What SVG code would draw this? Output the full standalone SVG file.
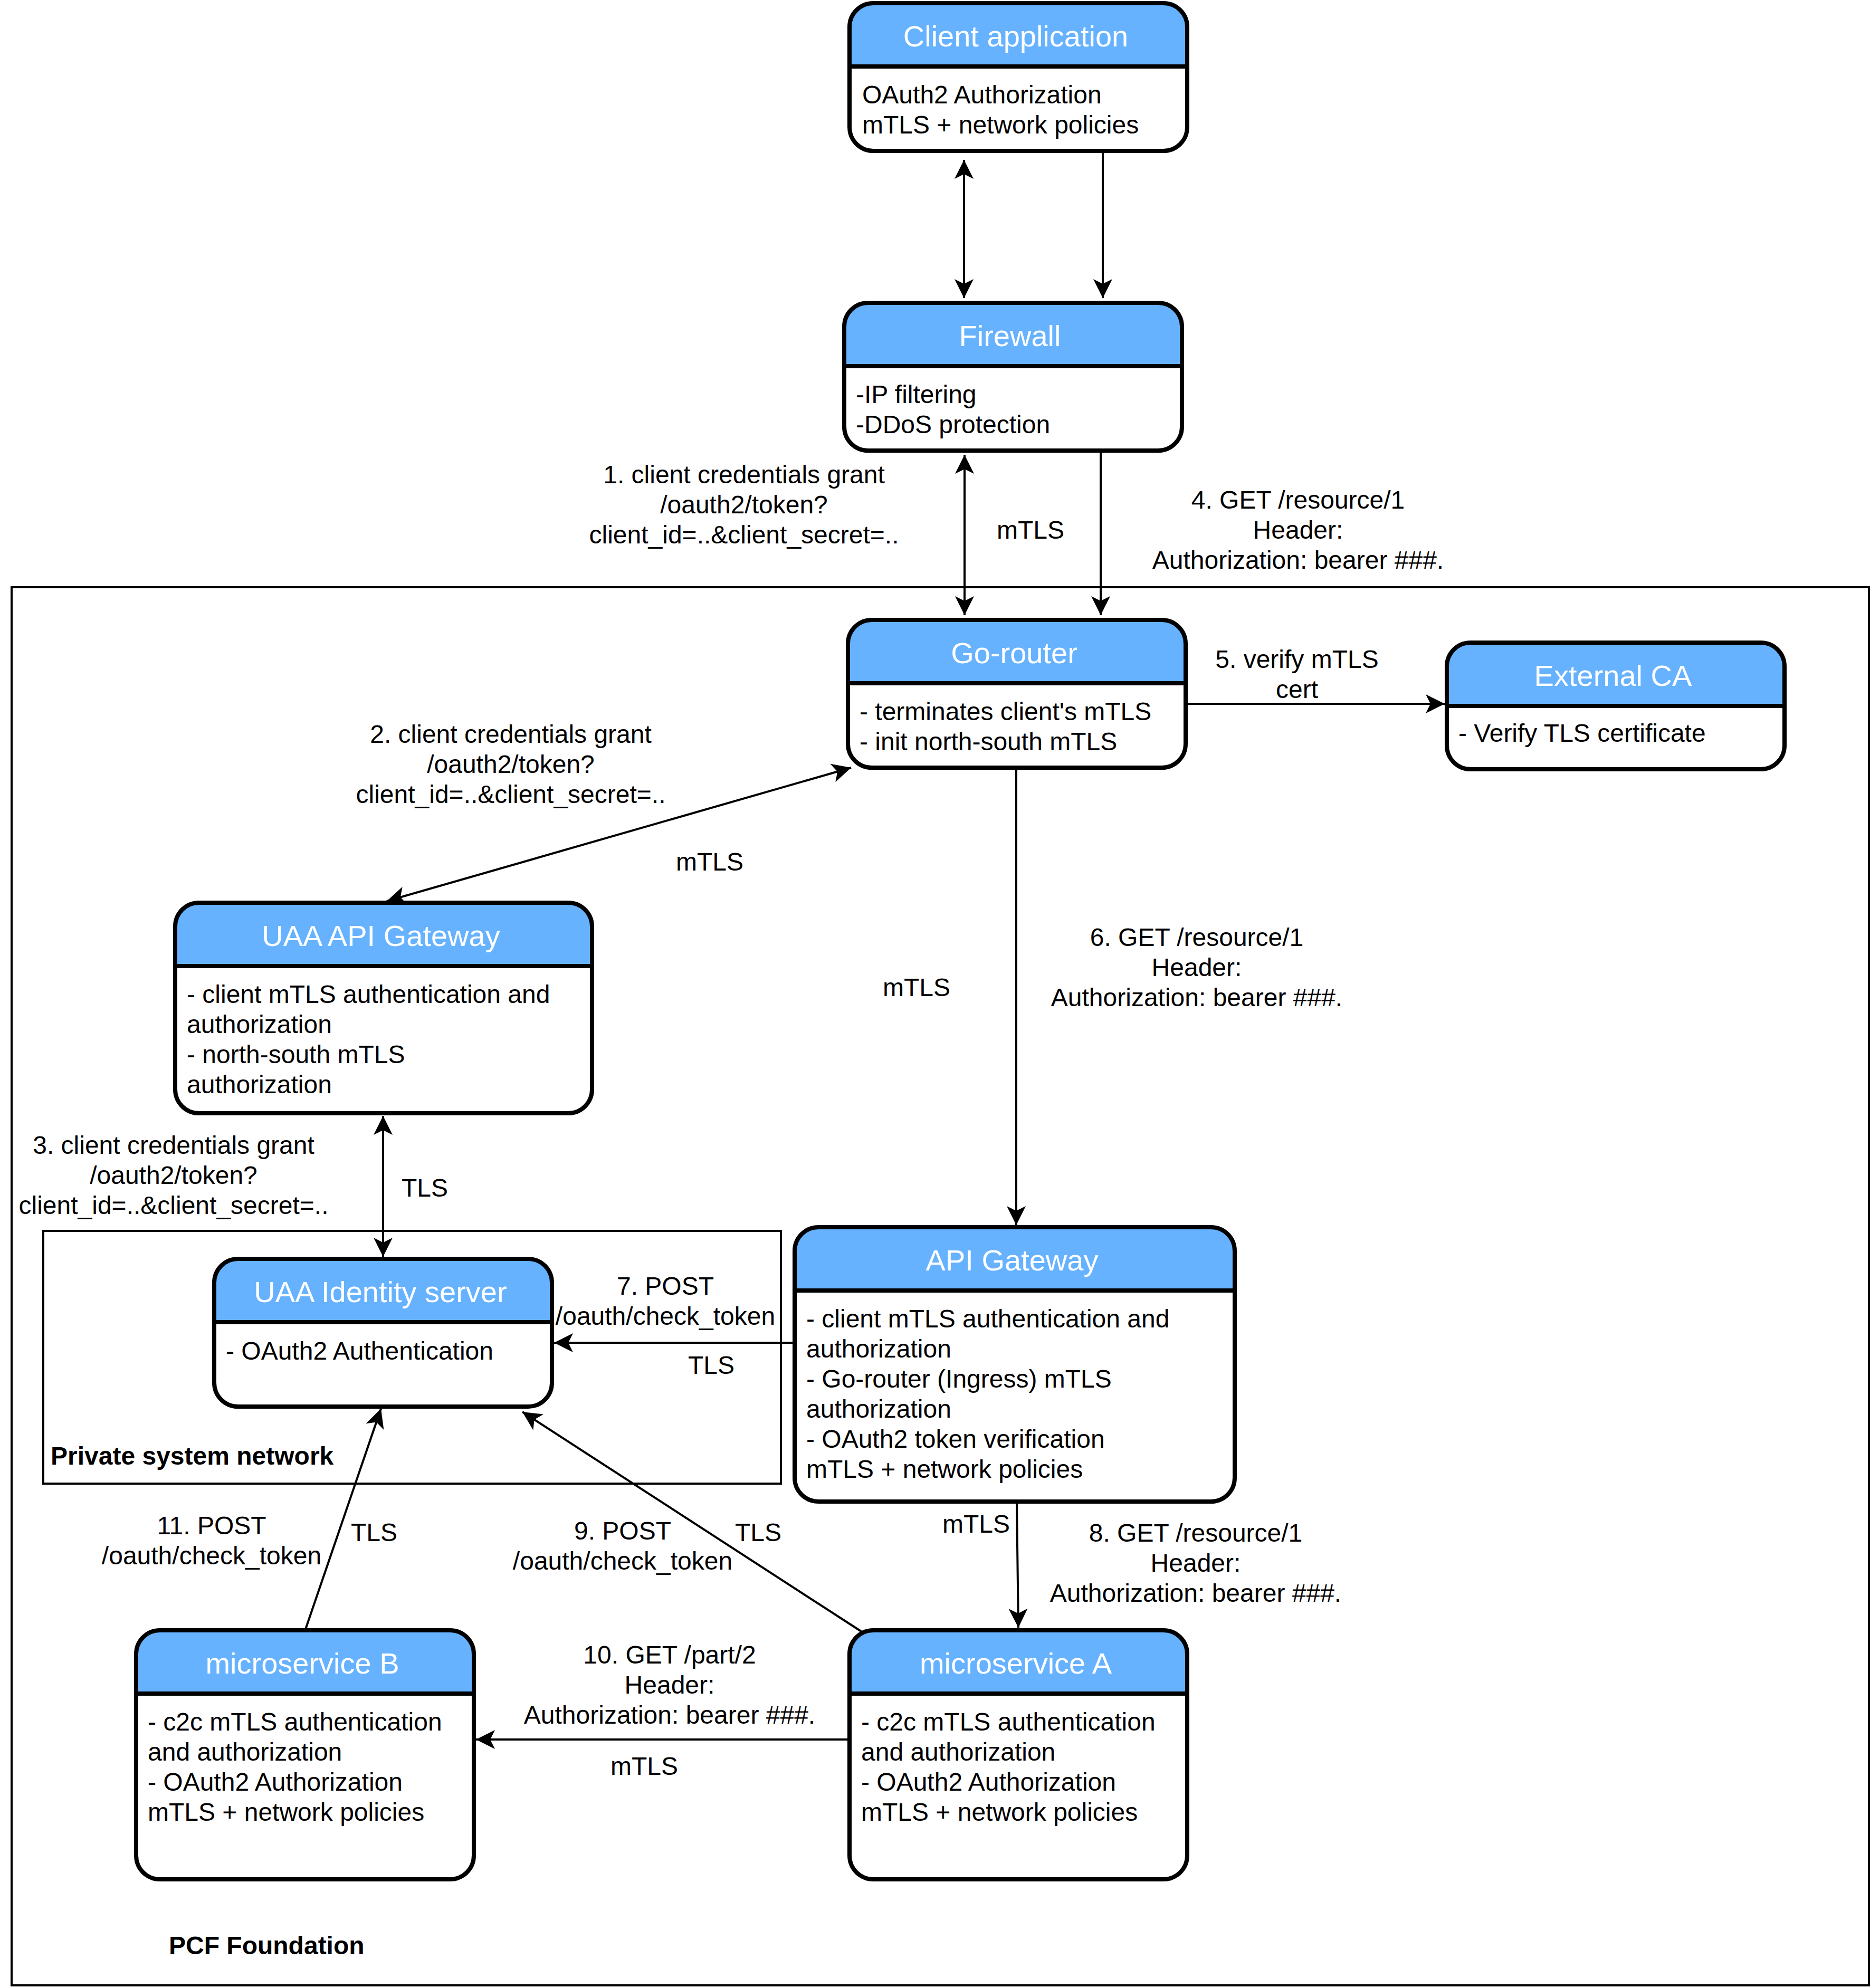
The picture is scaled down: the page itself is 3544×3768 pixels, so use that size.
<svg xmlns="http://www.w3.org/2000/svg" width="3544" height="3768" viewBox="0 0 3544 3768">
<style>
text{font-family:"Liberation Sans",Arial,Helvetica,sans-serif;fill:#000}
.t{font-size:56px;fill:#fff;text-anchor:middle}
.b{font-size:48px}
.l{font-size:48px;text-anchor:middle}
.g{font-size:48px;font-weight:bold}
.box{fill:#fff;stroke:none}
.hd{fill:#66B2FF;stroke:none}
.ol{fill:none;stroke:#000;stroke-width:8}
.dv{stroke:#000;stroke-width:8}
.grp{fill:none;stroke:#000;stroke-width:4}
.c{fill:none;stroke:#000;stroke-width:4}
</style>
<defs>
<marker id="ah" markerUnits="userSpaceOnUse" viewBox="-40 -20 44 40" refX="0" refY="0" markerWidth="44" markerHeight="40" orient="auto-start-reverse">
<path d="M0,0 L-36,-18 L-27,0 L-36,18 Z" fill="#000"/>
</marker>
</defs>
<rect width="3544" height="3768" fill="#fff"/>
<g id="pcf-foundation">
<rect class="grp" x="22" y="1113" width="3520" height="2650"/>
<text class="g" x="320" y="3704">PCF Foundation</text>
</g>
<g id="private-system-network">
<rect class="grp" x="82" y="2333" width="1398" height="479"/>
<text class="g" x="96" y="2776">Private system network</text>
</g>
<g id="client-application">
<rect class="box" x="1610" y="6" width="640" height="280" rx="45"/>
<path class="hd" d="M1610,126 V51 A45,45 0 0 1 1655,6 H2205 A45,45 0 0 1 2250,51 V126 Z"/>
<rect class="ol" x="1610" y="6" width="640" height="280" rx="45"/>
<line class="dv" x1="1610" y1="126" x2="2250" y2="126"/>
<text class="t" x="1925" y="88">Client application</text>
<text class="b" y="196"><tspan x="1634">OAuth2 Authorization</tspan><tspan x="1634" dy="57">mTLS + network policies</tspan></text>
</g>
<g id="firewall">
<rect class="box" x="1600" y="574" width="640" height="280" rx="45"/>
<path class="hd" d="M1600,694 V619 A45,45 0 0 1 1645,574 H2195 A45,45 0 0 1 2240,619 V694 Z"/>
<rect class="ol" x="1600" y="574" width="640" height="280" rx="45"/>
<line class="dv" x1="1600" y1="694" x2="2240" y2="694"/>
<text class="t" x="1914" y="656">Firewall</text>
<text class="b" y="764"><tspan x="1622">-IP filtering</tspan><tspan x="1622" dy="57">-DDoS protection</tspan></text>
</g>
<g id="go-router">
<rect class="box" x="1607" y="1175" width="640" height="280" rx="45"/>
<path class="hd" d="M1607,1295 V1220 A45,45 0 0 1 1652,1175 H2202 A45,45 0 0 1 2247,1220 V1295 Z"/>
<rect class="ol" x="1607" y="1175" width="640" height="280" rx="45"/>
<line class="dv" x1="1607" y1="1295" x2="2247" y2="1295"/>
<text class="t" x="1922" y="1257">Go-router</text>
<text class="b" y="1365"><tspan x="1629">- terminates client's mTLS</tspan><tspan x="1629" dy="57">- init north-south mTLS</tspan></text>
</g>
<g id="external-ca">
<rect class="box" x="2742" y="1218" width="640" height="240" rx="45"/>
<path class="hd" d="M2742,1338 V1263 A45,45 0 0 1 2787,1218 H3337 A45,45 0 0 1 3382,1263 V1338 Z"/>
<rect class="ol" x="2742" y="1218" width="640" height="240" rx="45"/>
<line class="dv" x1="2742" y1="1338" x2="3382" y2="1338"/>
<text class="t" x="3057" y="1300">External CA</text>
<text class="b" x="2764" y="1406">- Verify TLS certificate</text>
</g>
<g id="uaa-api-gateway">
<rect class="box" x="332" y="1711" width="790" height="399" rx="45"/>
<path class="hd" d="M332,1831 V1756 A45,45 0 0 1 377,1711 H1077 A45,45 0 0 1 1122,1756 V1831 Z"/>
<rect class="ol" x="332" y="1711" width="790" height="399" rx="45"/>
<line class="dv" x1="332" y1="1831" x2="1122" y2="1831"/>
<text class="t" x="722" y="1793">UAA API Gateway</text>
<text class="b" y="1901"><tspan x="354">- client mTLS authentication and</tspan><tspan x="354" dy="57">authorization</tspan><tspan x="354" dy="57">- north-south mTLS</tspan><tspan x="354" dy="57">authorization</tspan></text>
</g>
<g id="uaa-identity-server">
<rect class="box" x="406" y="2386" width="640" height="280" rx="45"/>
<path class="hd" d="M406,2506 V2431 A45,45 0 0 1 451,2386 H1001 A45,45 0 0 1 1046,2431 V2506 Z"/>
<rect class="ol" x="406" y="2386" width="640" height="280" rx="45"/>
<line class="dv" x1="406" y1="2506" x2="1046" y2="2506"/>
<text class="t" x="721" y="2468">UAA Identity server</text>
<text class="b" x="428" y="2577">- OAuth2 Authentication</text>
</g>
<g id="api-gateway">
<rect class="box" x="1506" y="2326" width="834" height="520" rx="45"/>
<path class="hd" d="M1506,2446 V2371 A45,45 0 0 1 1551,2326 H2295 A45,45 0 0 1 2340,2371 V2446 Z"/>
<rect class="ol" x="1506" y="2326" width="834" height="520" rx="45"/>
<line class="dv" x1="1506" y1="2446" x2="2340" y2="2446"/>
<text class="t" x="1918" y="2408">API Gateway</text>
<text class="b" y="2516"><tspan x="1528">- client mTLS authentication and</tspan><tspan x="1528" dy="57">authorization</tspan><tspan x="1528" dy="57">- Go-router (Ingress) mTLS</tspan><tspan x="1528" dy="57">authorization</tspan><tspan x="1528" dy="57">- OAuth2 token verification</tspan><tspan x="1528" dy="57">mTLS + network policies</tspan></text>
</g>
<g id="microservice-b">
<rect class="box" x="258" y="3090" width="640" height="472" rx="45"/>
<path class="hd" d="M258,3210 V3135 A45,45 0 0 1 303,3090 H853 A45,45 0 0 1 898,3135 V3210 Z"/>
<rect class="ol" x="258" y="3090" width="640" height="472" rx="45"/>
<line class="dv" x1="258" y1="3210" x2="898" y2="3210"/>
<text class="t" x="573" y="3172">microservice B</text>
<text class="b" y="3280"><tspan x="280">- c2c mTLS authentication</tspan><tspan x="280" dy="57">and authorization</tspan><tspan x="280" dy="57">- OAuth2 Authorization</tspan><tspan x="280" dy="57">mTLS + network policies</tspan></text>
</g>
<g id="microservice-a">
<rect class="box" x="1610" y="3090" width="640" height="472" rx="45"/>
<path class="hd" d="M1610,3210 V3135 A45,45 0 0 1 1655,3090 H2205 A45,45 0 0 1 2250,3135 V3210 Z"/>
<rect class="ol" x="1610" y="3090" width="640" height="472" rx="45"/>
<line class="dv" x1="1610" y1="3210" x2="2250" y2="3210"/>
<text class="t" x="1925" y="3172">microservice A</text>
<text class="b" y="3280"><tspan x="1632">- c2c mTLS authentication</tspan><tspan x="1632" dy="57">and authorization</tspan><tspan x="1632" dy="57">- OAuth2 Authorization</tspan><tspan x="1632" dy="57">mTLS + network policies</tspan></text>
</g>
<g id="connectors">
<path class="c" d="M1827,303 L1827,565" marker-start="url(#ah)" marker-end="url(#ah)"/>
<path class="c" d="M2090,290 L2090,565" marker-end="url(#ah)"/>
<path class="c" d="M1828,862 L1828,1166" marker-start="url(#ah)" marker-end="url(#ah)"/>
<path class="c" d="M2086,858 L2086,1166" marker-end="url(#ah)"/>
<path class="c" d="M2251,1334 L2738,1334" marker-end="url(#ah)"/>
<path class="c" d="M1613,1455 L733,1708" marker-start="url(#ah)" marker-end="url(#ah)"/>
<path class="c" d="M1926,1459 L1926,2322" marker-end="url(#ah)"/>
<path class="c" d="M726,2115 L726,2382" marker-start="url(#ah)" marker-end="url(#ah)"/>
<path class="c" d="M1502,2545 L1050,2545" marker-end="url(#ah)"/>
<path class="c" d="M1927,2850 L1930,3085" marker-end="url(#ah)"/>
<path class="c" d="M1632,3092 L990,2676" marker-end="url(#ah)"/>
<path class="c" d="M579,3088 L722,2670" marker-end="url(#ah)"/>
<path class="c" d="M1606,3297 L902,3297" marker-end="url(#ah)"/>
<text class="l" y="916"><tspan x="1410">1. client credentials grant</tspan><tspan x="1410" dy="57">/oauth2/token?</tspan><tspan x="1410" dy="57">client_id=..&amp;client_secret=..</tspan></text>
<text class="l" x="1953" y="1021">mTLS</text>
<text class="l" y="964"><tspan x="2460">4. GET /resource/1</tspan><tspan x="2460" dy="57">Header:</tspan><tspan x="2460" dy="57">Authorization: bearer ###.</tspan></text>
<text class="l" y="1266"><tspan x="2458">5. verify mTLS</tspan><tspan x="2458" dy="57">cert</tspan></text>
<text class="l" y="1408"><tspan x="968">2. client credentials grant</tspan><tspan x="968" dy="57">/oauth2/token?</tspan><tspan x="968" dy="57">client_id=..&amp;client_secret=..</tspan></text>
<text class="l" x="1345" y="1650">mTLS</text>
<text class="l" y="1793"><tspan x="2268">6. GET /resource/1</tspan><tspan x="2268" dy="57">Header:</tspan><tspan x="2268" dy="57">Authorization: bearer ###.</tspan></text>
<text class="l" x="1737" y="1888">mTLS</text>
<text class="l" y="2187"><tspan x="329">3. client credentials grant</tspan><tspan x="329" dy="57">/oauth2/token?</tspan><tspan x="329" dy="57">client_id=..&amp;client_secret=..</tspan></text>
<text class="l" x="805" y="2268">TLS</text>
<text class="l" y="2454"><tspan x="1261">7. POST</tspan><tspan x="1261" dy="57">/oauth/check_token</tspan></text>
<text class="l" x="1348" y="2604">TLS</text>
<text class="l" x="1850" y="2905">mTLS</text>
<text class="l" y="2922"><tspan x="2266">8. GET /resource/1</tspan><tspan x="2266" dy="57">Header:</tspan><tspan x="2266" dy="57">Authorization: bearer ###.</tspan></text>
<text class="l" y="2918"><tspan x="1180">9. POST</tspan><tspan x="1180" dy="57">/oauth/check_token</tspan></text>
<text class="l" x="1437" y="2921">TLS</text>
<text class="l" y="2908"><tspan x="401">11. POST</tspan><tspan x="401" dy="57">/oauth/check_token</tspan></text>
<text class="l" x="709" y="2921">TLS</text>
<text class="l" y="3153"><tspan x="1269">10. GET /part/2</tspan><tspan x="1269" dy="57">Header:</tspan><tspan x="1269" dy="57">Authorization: bearer ###.</tspan></text>
<text class="l" x="1221" y="3364">mTLS</text>
</g>
</svg>
